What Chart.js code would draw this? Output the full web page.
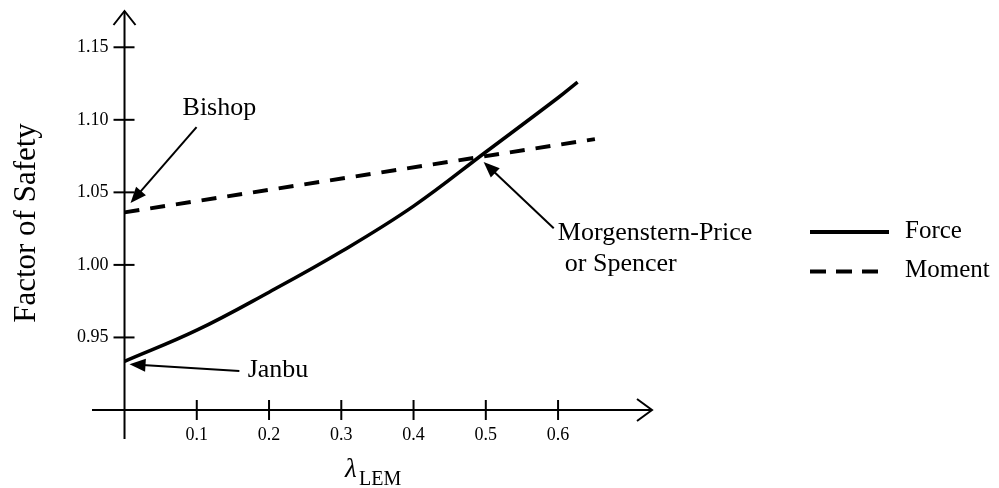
<!DOCTYPE html>
<html>
<head>
<meta charset="utf-8">
<script src="https://cdn.jsdelivr.net/npm/chart.js@4/dist/chart.umd.min.js"></script>
<style>
  html, body { margin: 0; padding: 0; background: #fff; }
  #wrap { width: 999px; height: 488px; }
</style>
</head>
<body>
<div id="wrap"><canvas id="fos"></canvas></div>
<script>
// data
const forceLambda = [0, 0.1, 0.2, 0.3, 0.4, 0.5, 0.6, 0.627];
const forceFos = [0.9335, 0.955, 0.9812, 1.0092, 1.0405, 1.0778, 1.1152, 1.126];
const momentLambda = [0, 0.651];
const momentFos = [1.0362, 1.0867];

const xTicks = [0.1, 0.2, 0.3, 0.4, 0.5, 0.6];
const yTicks = [0.95, 1.00, 1.05, 1.10, 1.15];

// callouts: text, text position, arrow tail, arrow tip (data units)
const notes = [
  { lines: ["Bishop"], at: [0.0803, 1.1032], from: [0.0997, 1.0949], to: [0.0083, 1.0426] },
  { lines: ["Janbu"], at: [0.1704, 0.9229], from: [0.159, 0.9269], to: [0.0069, 0.9315] },
  { lines: ["Morgenstern-Price", "or Spencer"], at: [0.5997, 1.0171], from: [0.594, 1.0253], to: [0.497, 1.0710], indent: [0, 0.0097] },
];

const SERIF = '"Liberation Serif", "Times New Roman", serif';

function pts(xs, ys) {
  return xs.map((x, i) => ({ x: x, y: ys[i] }));
}

function arrow(ctx, x1, y1, x2, y2) {
  const a = Math.atan2(y2 - y1, x2 - x1);
  const len = 16, half = 6.5;
  ctx.beginPath();
  ctx.moveTo(x1, y1);
  ctx.lineTo(x2 - Math.cos(a) * len * 0.8, y2 - Math.sin(a) * len * 0.8);
  ctx.stroke();
  ctx.beginPath();
  ctx.moveTo(x2, y2);
  ctx.lineTo(x2 - Math.cos(a) * len - Math.sin(a) * half, y2 - Math.sin(a) * len + Math.cos(a) * half);
  ctx.lineTo(x2 - Math.cos(a) * len + Math.sin(a) * half, y2 - Math.sin(a) * len - Math.cos(a) * half);
  ctx.closePath();
  ctx.fill();
}

// axes with arrows, ticks, labels, callouts and legend
const decor = {
  id: "decor",
  afterDatasetsDraw(chart) {
    const ctx = chart.ctx;
    const xs = chart.scales.x, ys = chart.scales.y;
    const area = chart.chartArea;
    const x0 = xs.getPixelForValue(0);
    const y0 = ys.getPixelForValue(0.90);
    ctx.save();
    ctx.strokeStyle = "#000";
    ctx.fillStyle = "#000";
    ctx.lineWidth = 2;

    // axis lines
    ctx.beginPath();
    ctx.moveTo(area.left, y0);
    ctx.lineTo(area.right, y0);
    ctx.moveTo(x0, area.bottom);
    ctx.lineTo(x0, area.top);
    ctx.stroke();
    // open arrowheads
    ctx.beginPath();
    ctx.moveTo(area.right - 15, y0 - 11);
    ctx.lineTo(area.right, y0);
    ctx.lineTo(area.right - 15, y0 + 11);
    ctx.moveTo(x0 - 11, area.top + 14);
    ctx.lineTo(x0, area.top);
    ctx.lineTo(x0 + 11, area.top + 14);
    ctx.stroke();

    // ticks
    ctx.font = "18px " + SERIF;
    ctx.textBaseline = "middle";
    ctx.textAlign = "center";
    xTicks.forEach(v => {
      const px = xs.getPixelForValue(v);
      ctx.beginPath();
      ctx.moveTo(px, y0 - 10);
      ctx.lineTo(px, y0 + 10);
      ctx.stroke();
      ctx.fillText(v.toFixed(1), px, y0 + 25);
    });
    ctx.textAlign = "right";
    yTicks.forEach(v => {
      const py = ys.getPixelForValue(v);
      ctx.beginPath();
      ctx.moveTo(x0 - 11, py);
      ctx.lineTo(x0 + 10, py);
      ctx.stroke();
      ctx.fillText(v.toFixed(2), x0 - 16, py);
    });

    // axis titles
    ctx.textBaseline = "alphabetic";
    ctx.save();
    ctx.translate(35, 223);
    ctx.rotate(-Math.PI / 2);
    ctx.textAlign = "center";
    ctx.font = "31px " + SERIF;
    ctx.fillText("Factor of Safety", 0, 0);
    ctx.restore();
    ctx.textAlign = "left";
    ctx.font = "italic 27px " + SERIF;
    ctx.fillText("λ", 345, 477);
    ctx.font = "20px " + SERIF;
    ctx.fillText("LEM", 359, 485);

    // callouts
    ctx.font = "26px " + SERIF;
    ctx.lineWidth = 2;
    notes.forEach(n => {
      arrow(ctx, xs.getPixelForValue(n.from[0]), ys.getPixelForValue(n.from[1]),
                 xs.getPixelForValue(n.to[0]), ys.getPixelForValue(n.to[1]));
      n.lines.forEach((t, i) => {
        const dx = n.indent ? n.indent[i] : 0;
        ctx.fillText(t, xs.getPixelForValue(n.at[0] + dx), ys.getPixelForValue(n.at[1]) + i * 31);
      });
    });

    // legend
    ctx.font = "25px " + SERIF;
    ctx.textBaseline = "middle";
    chart.data.datasets.forEach((ds, i) => {
      const ly = 232 + i * 39.5;
      ctx.save();
      ctx.lineWidth = 4;
      ctx.setLineDash(i === 0 ? [] : [16, 10]);
      ctx.beginPath();
      ctx.moveTo(810, ly);
      ctx.lineTo(i === 0 ? 889 : 879, ly);
      ctx.stroke();
      ctx.restore();
      ctx.fillText(ds.label, 905, ly - 1);
    });
    ctx.restore();
  }
};

new Chart(document.getElementById("fos"), {
  type: "line",
  data: {
    datasets: [
      {
        label: "Force",
        data: pts(forceLambda, forceFos),
        borderColor: "#000",
        borderWidth: 3.5,
        tension: 0.4,
        pointRadius: 0,
      },
      {
        label: "Moment",
        data: pts(momentLambda, momentFos),
        borderColor: "#000",
        borderWidth: 4,
        borderDash: [15, 11],
        pointRadius: 0,
      },
    ],
  },
  options: {
    responsive: true,
    maintainAspectRatio: false,
    animation: false,
    layout: {
      padding: { left: 92, right: 347, top: 11, bottom: 49 },
    },
    plugins: {
      legend: { display: false },
      tooltip: { enabled: false },
    },
    scales: {
      x: { type: "linear", min: -0.045, max: 0.73, display: false },
      y: { type: "linear", min: 0.88, max: 1.175, display: false },
    },
  },
  plugins: [decor],
});
</script>
</body>
</html>
